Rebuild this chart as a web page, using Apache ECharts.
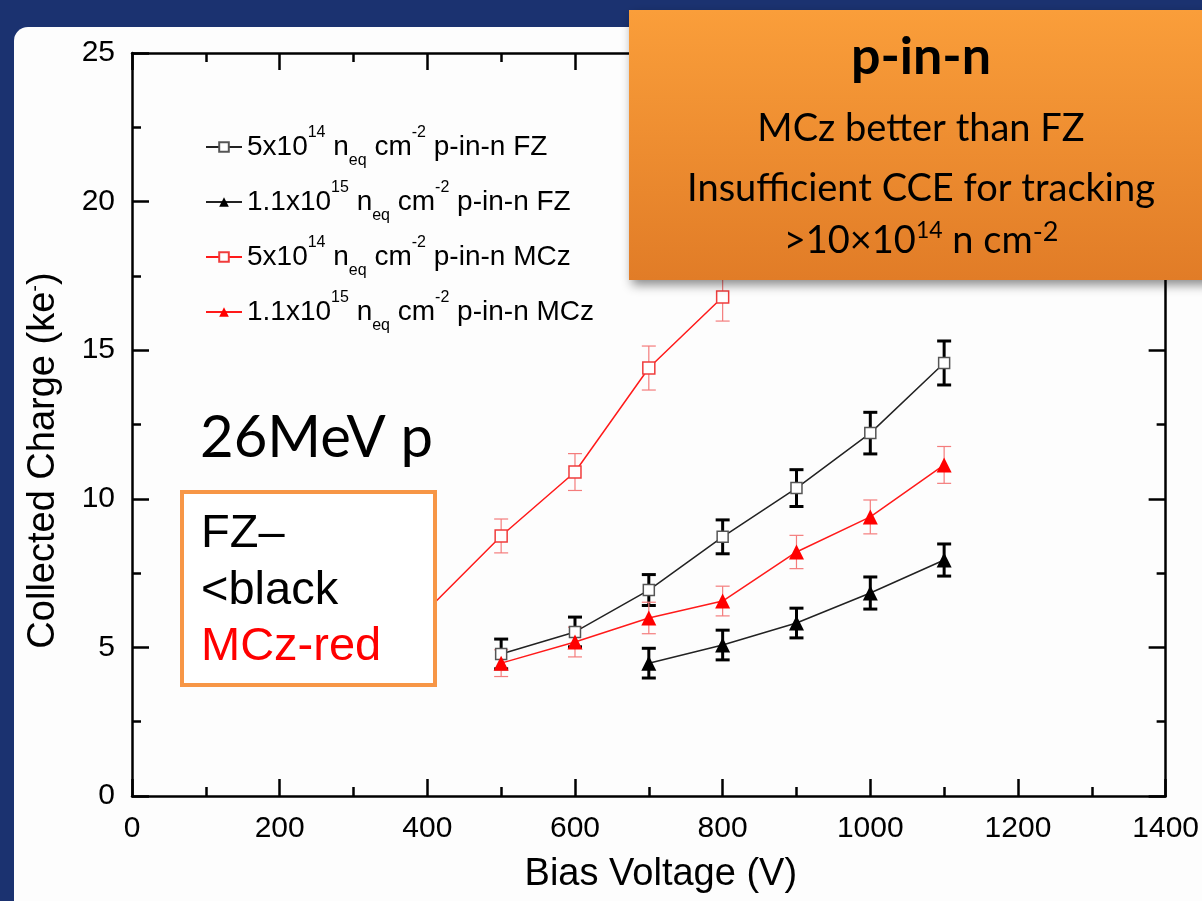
<!DOCTYPE html>
<html>
<head>
<meta charset="utf-8">
<title>Collected Charge vs Bias Voltage</title>
<script src="https://cdn.jsdelivr.net/npm/echarts@6.0.0/dist/echarts.min.js"></script>
<style>
  html, body { margin: 0; padding: 0; background: #fff; }
  #chart { width: 1202px; height: 901px; }
</style>
</head>
<body>
<div id="chart"></div>
<script>
// 5x10^14 p-in-n FZ (open black squares)
const fzLowV = [500, 600, 700, 800, 900, 1000, 1100];
const fzLowQ = [4.78, 5.52, 6.93, 8.72, 10.36, 12.21, 14.57];
const fzLowErr = [0.5, 0.5, 0.52, 0.57, 0.62, 0.7, 0.74];

// 1.1x10^15 p-in-n FZ (black triangles)
const fzHighV = [700, 800, 900, 1000, 1100];
const fzHighQ = [4.47, 5.08, 5.82, 6.83, 7.94];
const fzHighErr = [0.5, 0.5, 0.5, 0.54, 0.54];

// 5x10^14 p-in-n MCz (open red squares), 400 V point sits behind the FZ note
const mczLowV = [400, 500, 600, 700, 800];
const mczLowQ = [6.26, 8.75, 10.9, 14.4, 16.79];
const mczLowErr = [0.55, 0.57, 0.62, 0.74, 0.81];

// 1.1x10^15 p-in-n MCz (red triangles)
const mczHighV = [500, 600, 700, 800, 900, 1000, 1100];
const mczHighQ = [4.47, 5.18, 5.99, 6.56, 8.21, 9.39, 11.14];
const mczHighErr = [0.45, 0.5, 0.53, 0.5, 0.56, 0.57, 0.62];

const seriesNames = ['FZ 5e14', 'FZ 1.1e15', 'MCz 5e14', 'MCz 1.1e15'];
const legendLabels = [
  '{t|5x10}{sup|14}{t| n}{sub|eq}{t| cm}{sup|-2}{t| p-in-n FZ}',
  '{t|1.1x10}{sup|15}{t| n}{sub|eq}{t| cm}{sup|-2}{t| p-in-n FZ}',
  '{t|5x10}{sup|14}{t| n}{sub|eq}{t| cm}{sup|-2}{t| p-in-n MCz}',
  '{t|1.1x10}{sup|15}{t| n}{sub|eq}{t| cm}{sup|-2}{t| p-in-n MCz}'
];

const xMin = 0, xMax = 1400, xStep = 200;
const yMin = 0, yMax = 25, yStep = 5;

const plotFont = "'Liberation Sans', Arial, sans-serif";
const slideFont = "Lato, 'Open Sans', sans-serif";

function pairs (xs, ys) {
  return xs.map((x, i) => [x, ys[i]]);
}
function withErr (xs, ys, es) {
  return xs.map((x, i) => [x, ys[i], es[i]]);
}

// vertical error bar with caps
function errorBar (color, width, cap) {
  return function (params, api) {
    const x = api.value(0);
    const y = api.value(1);
    const e = api.value(2);
    const top = api.coord([x, y + e]);
    const bot = api.coord([x, y - e]);
    const style = { stroke: color, lineWidth: width };
    return {
      type: 'group',
      children: [
        { type: 'line', shape: { x1: top[0], y1: top[1], x2: bot[0], y2: bot[1] }, style: style },
        { type: 'line', shape: { x1: top[0] - cap, y1: top[1], x2: top[0] + cap, y2: top[1] }, style: style },
        { type: 'line', shape: { x1: bot[0] - cap, y1: bot[1], x2: bot[0] + cap, y2: bot[1] }, style: style }
      ]
    };
  };
}

const axisCommon = {
  type: 'value',
  axisLine: { show: true, onZero: false, lineStyle: { color: '#000', width: 2.5 } },
  axisTick: { show: true, inside: true, length: 17, lineStyle: { color: '#000', width: 2.5 } },
  minorTick: { show: true, splitNumber: 2, length: 9, lineStyle: { color: '#000', width: 2.5 } },
  splitLine: { show: false }
};

const supRich = {
  t: { fontFamily: plotFont, fontSize: 28, color: '#000', lineHeight: 44 },
  sup: { fontFamily: plotFont, fontSize: 16, color: '#000', lineHeight: 22, verticalAlign: 'top' },
  sub: { fontFamily: plotFont, fontSize: 16, color: '#000', lineHeight: 12, verticalAlign: 'bottom' }
};

let myChart = echarts.init(document.getElementById('chart'));
let option = {
  animation: false,
  backgroundColor: '#fff',
  grid: { left: 132, right: 34, top: 53, bottom: 105 },
  xAxis: [
    Object.assign({}, axisCommon, {
      position: 'bottom',
      min: xMin, max: xMax, interval: xStep,
      axisLabel: { margin: 18, fontFamily: plotFont, fontSize: 30, color: '#000', formatter: v => String(v) },
      name: 'Bias Voltage (V)',
      nameLocation: 'middle',
      nameGap: 60,
      nameTextStyle: { fontFamily: plotFont, fontSize: 38, lineHeight: 38, color: '#000', padding: [0, 0, 0, 24] }
    }),
    Object.assign({}, axisCommon, {
      position: 'top',
      min: xMin, max: xMax, interval: xStep,
      axisLabel: { show: false }
    })
  ],
  yAxis: [
    Object.assign({}, axisCommon, {
      position: 'left',
      min: yMin, max: yMax, interval: yStep,
      axisLabel: { margin: 17, fontFamily: plotFont, fontSize: 30, color: '#000', formatter: v => String(v) },
      name: '{t|Collected Charge (ke}{sup|-}{t|)}',
      nameLocation: 'middle',
      nameGap: 69,
      nameTextStyle: {
        padding: [0, 72, 0, 0],
        rich: {
          t: { fontFamily: plotFont, fontSize: 38, color: '#000', lineHeight: 38 },
          sup: { fontFamily: plotFont, fontSize: 20, color: '#000', lineHeight: 20, verticalAlign: 'top' }
        }
      }
    }),
    Object.assign({}, axisCommon, {
      position: 'right',
      min: yMin, max: yMax, interval: yStep,
      axisLabel: { show: false }
    })
  ],
  legend: {
    data: seriesNames,
    orient: 'vertical',
    left: 200,
    top: 120,
    itemWidth: 36,
    itemHeight: 12,
    itemGap: 11,
    selectedMode: false,
    formatter: name => legendLabels[seriesNames.indexOf(name)],
    textStyle: { rich: supRich }
  },
  series: [
    // error bars first so the markers sit on top
    { type: 'custom', silent: true, z: 2, renderItem: errorBar('#000', 3, 7), data: withErr(fzLowV, fzLowQ, fzLowErr) },
    { type: 'custom', silent: true, z: 2, renderItem: errorBar('#000', 3, 7), data: withErr(fzHighV, fzHighQ, fzHighErr) },
    { type: 'custom', silent: true, z: 2, renderItem: errorBar('#f47c7c', 1.2, 7), data: withErr(mczLowV, mczLowQ, mczLowErr) },
    { type: 'custom', silent: true, z: 2, renderItem: errorBar('#f47c7c', 1.2, 7), data: withErr(mczHighV, mczHighQ, mczHighErr) },
    {
      name: seriesNames[0], type: 'line', z: 3, data: pairs(fzLowV, fzLowQ),
      symbol: 'rect', symbolSize: 11,
      itemStyle: { color: '#fff', borderColor: '#555', borderWidth: 1.5 },
      lineStyle: { color: '#222', width: 1.5 }
    },
    {
      name: seriesNames[1], type: 'line', z: 3, data: pairs(fzHighV, fzHighQ),
      symbol: 'triangle', symbolSize: 15,
      itemStyle: { color: '#000' },
      lineStyle: { color: '#222', width: 1.5 }
    },
    {
      name: seriesNames[2], type: 'line', z: 3, data: pairs(mczLowV, mczLowQ),
      symbol: 'rect', symbolSize: 12,
      itemStyle: { color: '#fff', borderColor: '#f03c3c', borderWidth: 1.5 },
      lineStyle: { color: '#ff1a1a', width: 1.5 }
    },
    {
      name: seriesNames[3], type: 'line', z: 3, data: pairs(mczHighV, mczHighQ),
      symbol: 'triangle', symbolSize: 15,
      itemStyle: { color: '#ff0000' },
      lineStyle: { color: '#ff1a1a', width: 1.5 }
    }
  ],
  graphic: [
    // slide frame
    { type: 'rect', z: -10, shape: { x: 0, y: 0, width: 1202, height: 901 }, style: { fill: '#1b3270' } },
    { type: 'rect', z: -9, shape: { x: 14, y: 27, width: 1188, height: 874, r: [14, 0, 0, 0] }, style: { fill: '#fdfdfd' } },
    // 26MeV p
    {
      type: 'text', z: 20, x: 200, y: 438,
      style: { text: '26MeV p', font: '58px ' + slideFont, fill: '#000', verticalAlign: 'middle' }
    },
    // FZ / MCz colour note
    {
      type: 'rect', z: 20,
      shape: { x: 182, y: 492, width: 253, height: 193 },
      style: { fill: '#fff', stroke: '#f79646', lineWidth: 4 }
    },
    { type: 'text', z: 21, x: 201, y: 534, style: { text: 'FZ\u2013', font: '47px ' + plotFont, fill: '#000', verticalAlign: 'middle' } },
    { type: 'text', z: 21, x: 201, y: 591, style: { text: '<black', font: '47px ' + plotFont, fill: '#000', verticalAlign: 'middle' } },
    { type: 'text', z: 21, x: 201, y: 647, style: { text: 'MCz-red', font: '47px ' + plotFont, fill: '#ff0000', verticalAlign: 'middle' } },
    // orange callout
    {
      type: 'rect', z: 30,
      shape: { x: 629, y: 10, width: 600, height: 270 },
      style: {
        fill: new echarts.graphic.LinearGradient(0, 0, 0, 1, [
          { offset: 0, color: '#fa9e3a' },
          { offset: 1, color: '#e17c27' }
        ]),
        shadowBlur: 10, shadowOffsetX: 3, shadowOffsetY: 5, shadowColor: 'rgba(0,0,0,0.45)'
      }
    },
    { type: 'text', z: 31, x: 921, y: 57, style: { text: 'p-in-n', font: 'bold 52px ' + slideFont, fill: '#000', align: 'center', verticalAlign: 'middle' } },
    { type: 'text', z: 31, x: 921, y: 129, style: { text: 'MCz better than FZ', font: '38px ' + slideFont, fill: '#000', align: 'center', verticalAlign: 'middle' } },
    { type: 'text', z: 31, x: 921, y: 189, style: { text: 'Insufficient CCE for tracking', font: '38px ' + slideFont, fill: '#000', align: 'center', verticalAlign: 'middle' } },
    {
      type: 'text', z: 31, x: 921, y: 241,
      style: {
        text: '{t|>10\u00d710}{s|14}{t| n cm}{s2|-2}',
        align: 'center', verticalAlign: 'middle',
        rich: {
          t: { font: '38px ' + slideFont, fill: '#000', lineHeight: 44 },
          s: { font: '23px ' + slideFont, fill: '#000', lineHeight: 30, verticalAlign: 'top' },
          s2: { font: '27px ' + slideFont, fill: '#000', lineHeight: 24, verticalAlign: 'top' }
        }
      }
    }
  ]
};
myChart.setOption(option);
</script>
</body>
</html>
